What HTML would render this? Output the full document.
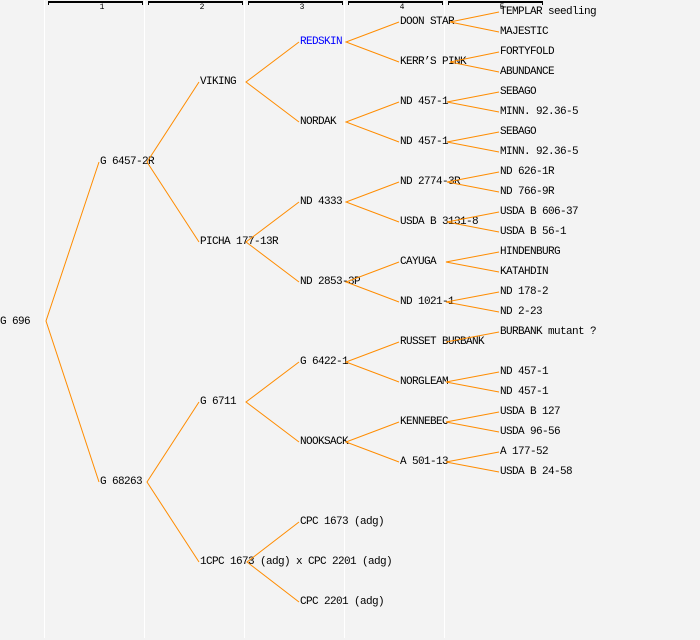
<!DOCTYPE html>
<html><head><meta charset="utf-8"><style>
html,body{margin:0;padding:0;background:#f3f3f3}
svg{display:block}
text{font-family:"Liberation Mono",monospace;font-size:11px;letter-spacing:-0.6px;fill:#000}
</style></head><body>
<svg width="700" height="640" viewBox="0 0 700 640" xmlns="http://www.w3.org/2000/svg">
<rect width="700" height="640" fill="#f3f3f3"/>
<g fill="#ffffff">
<rect x="44" y="0" width="1" height="638"/>
<rect x="144" y="0" width="1" height="638"/>
<rect x="244" y="0" width="1" height="638"/>
<rect x="344" y="0" width="1" height="638"/>
<rect x="444" y="0" width="1" height="638"/>
</g>
<g dominant-baseline="central">
<text x="0" y="322">G 696</text>
<text x="100" y="162">G 6457-2R</text>
<text x="100" y="482">G 68263</text>
<text x="200" y="82">VIKING</text>
<text x="200" y="242">PICHA 177-13R</text>
<text x="200" y="402">G 6711</text>
<text x="200" y="562">1CPC 1673 (adg) x CPC 2201 (adg)</text>
<text x="300" y="42" style="fill:#0000ff">REDSKIN</text>
<text x="300" y="122">NORDAK</text>
<text x="300" y="202">ND 4333</text>
<text x="300" y="282">ND 2853-3P</text>
<text x="300" y="362">G 6422-1</text>
<text x="300" y="442">NOOKSACK</text>
<text x="300" y="522">CPC 1673 (adg)</text>
<text x="300" y="602">CPC 2201 (adg)</text>
<text x="400" y="22">DOON STAR</text>
<text x="400" y="62">KERR’S PINK</text>
<text x="400" y="102">ND 457-1</text>
<text x="400" y="142">ND 457-1</text>
<text x="400" y="182">ND 2774-3R</text>
<text x="400" y="222">USDA B 3131-8</text>
<text x="400" y="262">CAYUGA</text>
<text x="400" y="302">ND 1021-1</text>
<text x="400" y="342">RUSSET BURBANK</text>
<text x="400" y="382">NORGLEAM</text>
<text x="400" y="422">KENNEBEC</text>
<text x="400" y="462">A 501-13</text>
<text x="500" y="12">TEMPLAR seedling</text>
<text x="500" y="32">MAJESTIC</text>
<text x="500" y="52">FORTYFOLD</text>
<text x="500" y="72">ABUNDANCE</text>
<text x="500" y="92">SEBAGO</text>
<text x="500" y="112">MINN. 92.36-5</text>
<text x="500" y="132">SEBAGO</text>
<text x="500" y="152">MINN. 92.36-5</text>
<text x="500" y="172">ND 626-1R</text>
<text x="500" y="192">ND 766-9R</text>
<text x="500" y="212">USDA B 606-37</text>
<text x="500" y="232">USDA B 56-1</text>
<text x="500" y="252">HINDENBURG</text>
<text x="500" y="272">KATAHDIN</text>
<text x="500" y="292">ND 178-2</text>
<text x="500" y="312">ND 2-23</text>
<text x="500" y="332">BURBANK mutant ?</text>
<text x="500" y="372">ND 457-1</text>
<text x="500" y="392">ND 457-1</text>
<text x="500" y="412">USDA B 127</text>
<text x="500" y="432">USDA 96-56</text>
<text x="500" y="452">A 177-52</text>
<text x="500" y="472">USDA B 24-58</text>
</g>
<g stroke="#ff8c00" stroke-width="1" fill="none">
<polyline points="99,162 46,321 99,482"/>
<polyline points="199,82 147,162 199,242"/>
<polyline points="199,402 147,482 199,562"/>
<polyline points="299,42 246,82 299,122"/>
<polyline points="299,202 246,242 299,282"/>
<polyline points="299,362 246,402 299,442"/>
<polyline points="299,522 247,562 299,602"/>
<polyline points="399,22 346,42 399,62"/>
<polyline points="399,102 346,122 399,142"/>
<polyline points="399,182 346,202 399,222"/>
<polyline points="399,262 346,282 399,302"/>
<polyline points="399,342 346,362 399,382"/>
<polyline points="399,422 346,442 399,462"/>
<polyline points="499,12 450,22 499,32"/>
<polyline points="499,52 450,62 499,72"/>
<polyline points="499,92 447,102 499,112"/>
<polyline points="499,132 447,142 499,152"/>
<polyline points="499,172 447,182 499,192"/>
<polyline points="499,212 447,222 499,232"/>
<polyline points="499,252 446,262 499,272"/>
<polyline points="499,292 446,302 499,312"/>
<polyline points="499,332 446,342"/>
<polyline points="499,372 446,382 499,392"/>
<polyline points="499,412 446,422 499,432"/>
<polyline points="499,452 446,462 499,472"/>
</g>
<g stroke="#000" fill="none">
<g stroke-width="2">
<line x1="48" y1="2" x2="143" y2="2"/>
<line x1="148" y1="2" x2="243" y2="2"/>
<line x1="248" y1="2" x2="343" y2="2"/>
<line x1="348" y1="2" x2="443" y2="2"/>
<line x1="448" y1="2" x2="543" y2="2"/>
</g>
<g stroke-width="1">
<line x1="48.5" y1="2" x2="48.5" y2="5"/><line x1="142.5" y1="2" x2="142.5" y2="5"/>
<line x1="148.5" y1="2" x2="148.5" y2="5"/><line x1="242.5" y1="2" x2="242.5" y2="5"/>
<line x1="248.5" y1="2" x2="248.5" y2="5"/><line x1="342.5" y1="2" x2="342.5" y2="5"/>
<line x1="348.5" y1="2" x2="348.5" y2="5"/><line x1="442.5" y1="2" x2="442.5" y2="5"/>
<line x1="448.5" y1="2" x2="448.5" y2="5"/><line x1="542.5" y1="2" x2="542.5" y2="5"/>
</g>
</g>
<g text-anchor="middle">
<text x="102" y="9" style="font-size:8px;letter-spacing:0">1</text>
<text x="202" y="9" style="font-size:8px;letter-spacing:0">2</text>
<text x="302" y="9" style="font-size:8px;letter-spacing:0">3</text>
<text x="402" y="9" style="font-size:8px;letter-spacing:0">4</text>
<text x="502" y="9" style="font-size:8px;letter-spacing:0">5</text>
</g>
</svg>
</body></html>
